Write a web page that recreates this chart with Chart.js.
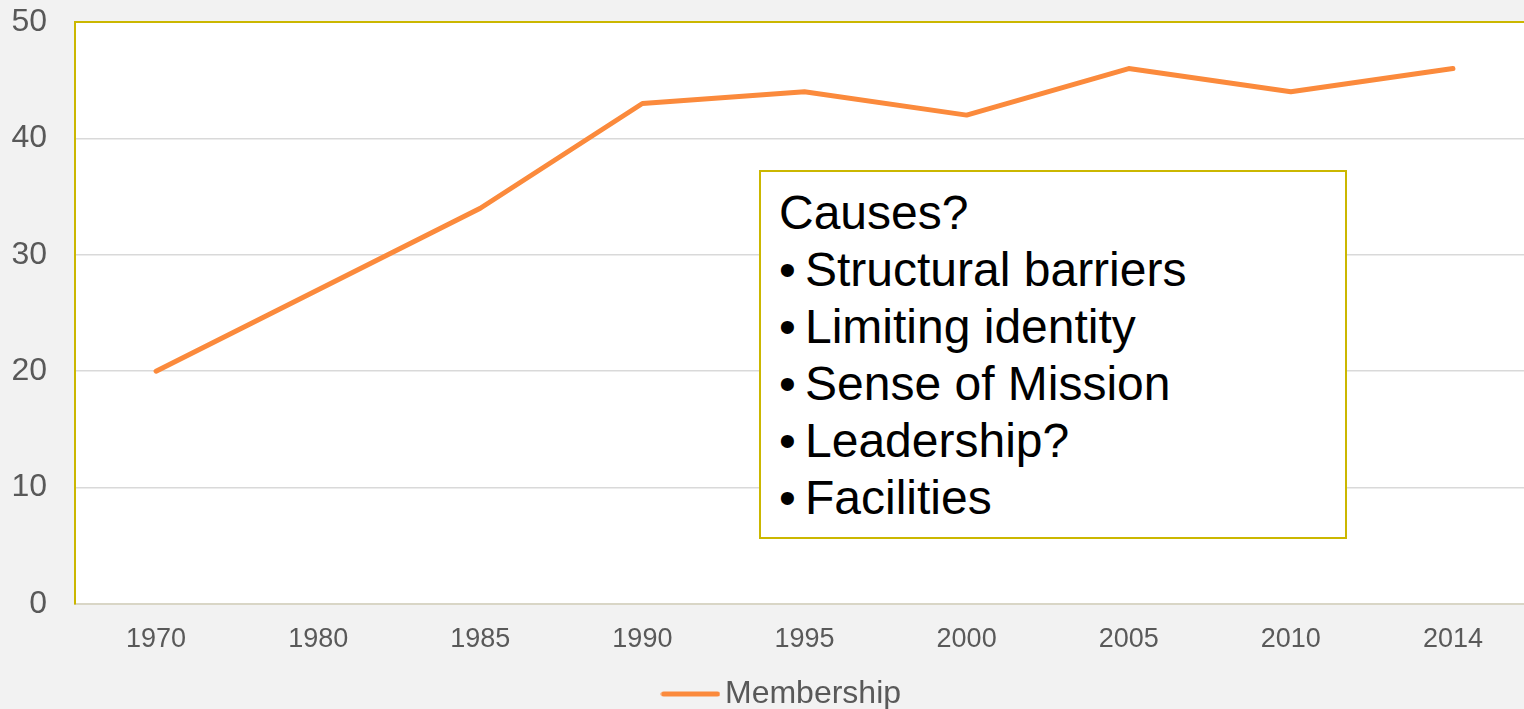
<!DOCTYPE html>
<html>
<head>
<meta charset="utf-8">
<script src="https://cdn.jsdelivr.net/npm/chart.js@4/dist/chart.umd.min.js"></script>
<style>
  html, body { margin: 0; padding: 0; background: #f2f2f2; overflow: hidden; width: 1524px; height: 709px; }
  #wrap { position: absolute; left: 0; top: 0; width: 1573px; height: 720px; }
  #note {
    position: absolute; left: 759px; top: 170px; width: 588px; height: 369px;
    box-sizing: border-box; border: 2px solid #cbb700; background: #ffffff;
    padding: 12px 0 0 18px;
    font-family: "Liberation Sans", Arial, sans-serif; font-size: 48px; line-height: 57px; color: #000;
  }
  #note .b { display: inline-block; width: 26px; }
</style>
</head>
<body>
<div id="wrap">
  <canvas id="c" width="1573" height="720"></canvas>
  <div id="note">
    <div>Causes?</div>
    <div><span class="b">•</span>Structural barriers</div>
    <div><span class="b">•</span>Limiting identity</div>
    <div><span class="b">•</span>Sense of Mission</div>
    <div><span class="b">•</span>Leadership?</div>
    <div><span class="b">•</span>Facilities</div>
  </div>
</div>
<script>
const years = ['1970', '1980', '1985', '1990', '1995', '2000', '2005', '2010', '2014'];
const membership = [20, 27, 34, 43, 44, 42, 46, 44, 46];
const seriesName = 'Membership';
const yMin = 0, yMax = 50, yStep = 10;

const lineColor = '#fb8a3c';
const fontFamily = '"Liberation Sans", Arial, sans-serif';

// legend sample: a short thick line with round caps
const sample = document.createElement('canvas');
sample.width = 60; sample.height = 8;
(function () {
  const g = sample.getContext('2d');
  g.strokeStyle = lineColor;
  g.lineWidth = 5;
  g.lineCap = 'round';
  g.beginPath();
  g.moveTo(3, 4); g.lineTo(57, 4);
  g.stroke();
})();

const plotBg = {
  id: 'plotBg',
  beforeDraw(chart) {
    const { ctx, chartArea: a } = chart;
    ctx.save();
    ctx.fillStyle = '#ffffff';
    ctx.fillRect(a.left, a.top, a.right - a.left, a.bottom - a.top);
    ctx.restore();
  }
};

new Chart(document.getElementById('c'), {
  type: 'line',
  data: {
    labels: years,
    datasets: [{
      label: seriesName,
      data: membership,
      borderColor: lineColor,
      backgroundColor: lineColor,
      borderWidth: 5,
      borderCapStyle: 'round',
      borderJoinStyle: 'round',
      pointRadius: 0,
      pointHoverRadius: 0,
      pointStyle: sample,
      tension: 0,
      fill: false
    }]
  },
  options: {
    responsive: false,
    animation: false,
    devicePixelRatio: 1,
    layout: { padding: { left: 0, right: 0, top: 22, bottom: 0 } },
    plugins: {
      tooltip: { enabled: false },
      legend: {
        position: 'bottom',
        labels: {
          usePointStyle: true,
          pointStyleWidth: 37,
          padding: 10,
          color: '#595959',
          font: { family: fontFamily, size: 32 }
        }
      }
    },
    scales: {
      x: {
        offset: true,
        grid: { display: false, drawTicks: false },
        border: { display: true, color: '#d9d6c6', width: 2 },
        ticks: {
          color: '#595959',
          padding: 19,
          maxRotation: 0,
          autoSkip: false,
          font: { family: fontFamily, size: 27 }
        },
        afterFit(scale) { scale.height = 64; scale.paddingLeft = 0; scale.paddingRight = 0; }
      },
      y: {
        min: yMin, max: yMax,
        grid: {
          drawTicks: false,
          color: (c) => (c.tick && c.tick.value === yMax) ? '#cbb700' : '#d9d9d9',
          lineWidth: (c) => (c.tick && c.tick.value === yMax) ? 2 : 1.5
        },
        border: { display: true, color: '#cbb700', width: 2 },
        ticks: {
          stepSize: yStep,
          color: '#595959',
          padding: 28,
          font: { family: fontFamily, size: 32 }
        },
        afterFit(scale) { scale.width = 75; scale.paddingTop = 0; scale.paddingBottom = 0; }
      },
      yRight: {
        position: 'right',
        display: true,
        grid: { display: false, drawTicks: false },
        border: { display: false },
        ticks: { display: false },
        afterFit(scale) { scale.width = 39; scale.paddingTop = 0; scale.paddingBottom = 0; }
      }
    }
  },
  plugins: [plotBg]
});
</script>
</body>
</html>
